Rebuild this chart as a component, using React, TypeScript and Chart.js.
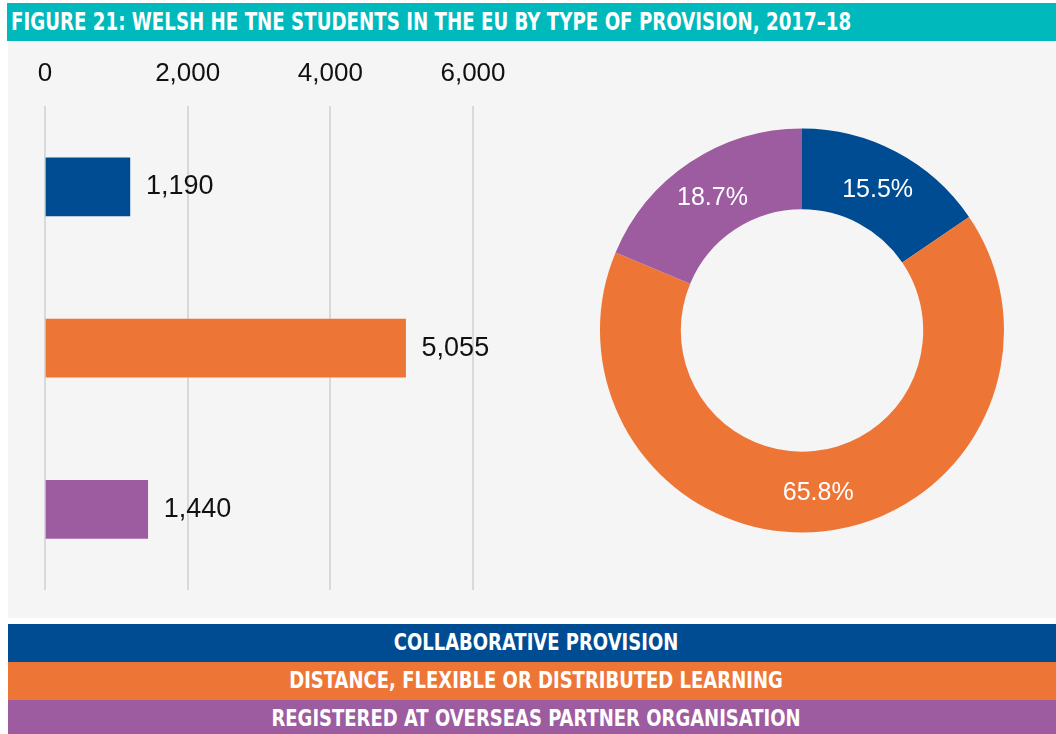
import React, { useEffect, useRef } from "react";
import { Chart, registerables } from "chart.js";

Chart.register(...registerables);

const title = "FIGURE 21: WELSH HE TNE STUDENTS IN THE EU BY TYPE OF PROVISION, 2017\u201318";
const categories = [
  "COLLABORATIVE PROVISION",
  "DISTANCE, FLEXIBLE OR DISTRIBUTED LEARNING",
  "REGISTERED AT OVERSEAS PARTNER ORGANISATION",
];
const students = [1190, 5055, 1440];
const shares = [15.5, 65.8, 18.7];
const colors = ["#004C93", "#ED7636", "#9D5C9F"];
const xTickMax = 6000;
const xTickStep = 2000;

const numFont = '"Liberation Sans", Arial, sans-serif';
const condFont = '"Liberation Sans Narrow", "DejaVu Sans Condensed", sans-serif';

const fmt = (v: number) => Number(v).toLocaleString("en-US");

const barLabels = {
  id: "barLabels",
  afterDatasetsDraw(chart: any) {
    const ctx = chart.ctx;
    const meta = chart.getDatasetMeta(0);
    ctx.save();
    ctx.font = `27px ${numFont}`;
    ctx.fillStyle = "#111111";
    ctx.textAlign = "left";
    ctx.textBaseline = "middle";
    meta.data.forEach((el: any, i: number) => {
      ctx.fillText(fmt(students[i]), el.x + 16, el.y);
    });
    ctx.restore();
  },
};

const donutLabels = {
  id: "donutLabels",
  afterDatasetsDraw(chart: any) {
    const ctx = chart.ctx;
    const meta = chart.getDatasetMeta(0);
    ctx.save();
    ctx.font = `25px ${numFont}`;
    ctx.fillStyle = "#ffffff";
    ctx.textAlign = "center";
    ctx.textBaseline = "middle";
    meta.data.forEach((el: any, i: number) => {
      const p = el.tooltipPosition();
      ctx.fillText(shares[i].toFixed(1) + "%", p.x, p.y + 2);
    });
    ctx.restore();
  },
};

export default function App() {
  const barRef = useRef<HTMLCanvasElement | null>(null);
  const donutRef = useRef<HTMLCanvasElement | null>(null);

  useEffect(() => {
    const bar = new Chart(barRef.current as HTMLCanvasElement, {
      type: "bar",
      data: {
        labels: categories,
        datasets: [
          {
            data: students,
            backgroundColor: colors,
            borderWidth: 0,
            barThickness: 58,
          },
        ],
      },
      options: {
        indexAxis: "y",
        animation: false,
        responsive: false,
        maintainAspectRatio: false,
        layout: { padding: { left: 37, right: 65, top: 0, bottom: 28 } },
        plugins: { legend: { display: false }, tooltip: { enabled: false } },
        scales: {
          x: {
            position: "top",
            min: 0,
            max: xTickMax,
            ticks: {
              stepSize: xTickStep,
              padding: 17,
              color: "#111111",
              maxRotation: 0,
              font: { family: numFont, size: 26 },
              callback: (v: any) => fmt(v),
            },
            grid: { color: "#d9d9d9", lineWidth: 2, drawTicks: false },
            border: { display: false },
          },
          y: { display: false },
        },
      },
      plugins: [barLabels],
    } as any);

    const donut = new Chart(donutRef.current as HTMLCanvasElement, {
      type: "doughnut",
      data: {
        labels: categories,
        datasets: [{ data: shares, backgroundColor: colors, borderWidth: 0 }],
      },
      options: {
        animation: false,
        responsive: false,
        maintainAspectRatio: false,
        cutout: "60%",
        layout: { padding: 4 },
        plugins: { legend: { display: false }, tooltip: { enabled: false } },
      },
      plugins: [donutLabels],
    } as any);

    return () => {
      bar.destroy();
      donut.destroy();
    };
  }, []);

  const legendTops = [624, 662, 700];
  const legendHeights = [38, 38, 34];

  return (
    <div
      style={{
        position: "absolute",
        left: 0,
        top: 0,
        width: 1056,
        height: 734,
        overflow: "hidden",
        background: "#ffffff",
      }}
    >
      <div
        style={{
          position: "absolute",
          left: 7,
          top: 3,
          width: 1049,
          height: 38,
          background: "#00B9BC",
        }}
      />
      <div
        style={{
          position: "absolute",
          left: 11,
          top: 3,
          height: 38,
          color: "#ffffff",
          fontFamily: condFont,
          fontWeight: 700,
          fontSize: 25,
          lineHeight: "38px",
          whiteSpace: "nowrap",
          transform: "scaleX(0.81)",
          transformOrigin: "left center",
        }}
      >
        {title}
      </div>
      <div
        style={{
          position: "absolute",
          left: 8,
          top: 41,
          width: 1048,
          height: 577,
          background: "#F5F5F5",
        }}
      />
      <canvas
        ref={barRef}
        width={530}
        height={577}
        style={{ position: "absolute", left: 8, top: 41, width: 530, height: 577 }}
      />
      <canvas
        ref={donutRef}
        width={412}
        height={413}
        style={{ position: "absolute", left: 596, top: 124, width: 412, height: 413 }}
      />
      {categories.map((c, i) => (
        <div
          key={c}
          style={{
            position: "absolute",
            left: 8,
            top: legendTops[i],
            width: 1048,
            height: legendHeights[i],
            background: colors[i],
          }}
        >
          <div
            style={{
              position: "absolute",
              left: 0,
              top: 0,
              width: 1056,
              color: "#ffffff",
              fontFamily: condFont,
              fontWeight: 700,
              fontSize: 23,
              lineHeight: "36px",
              textAlign: "center",
              whiteSpace: "nowrap",
              transform: "scaleX(0.87)",
              transformOrigin: "528px center",
            }}
          >
            {c}
          </div>
        </div>
      ))}
    </div>
  );
}
